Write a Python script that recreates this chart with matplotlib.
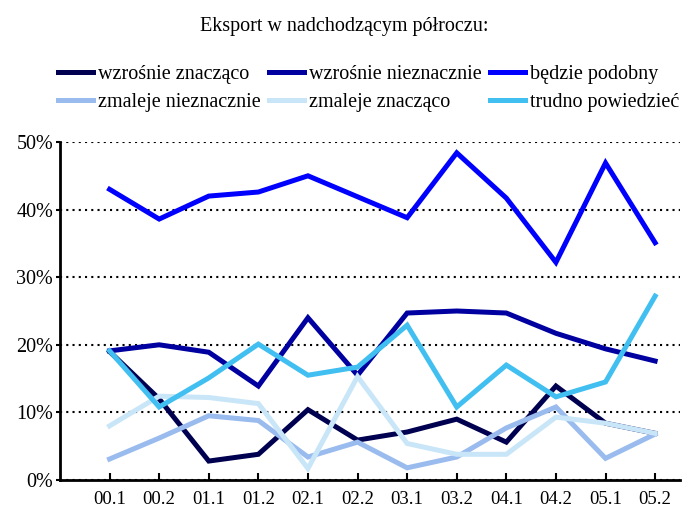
import matplotlib.pyplot as plt
from matplotlib.ticker import PercentFormatter

periods = ['00.1', '00.2', '01.1', '01.2', '02.1', '02.2',
           '03.1', '03.2', '04.1', '04.2', '05.1', '05.2']

wzrosnie_znaczaco = [19.0, 12.0, 2.8, 3.8, 10.4, 5.9, 7.1, 9.0, 5.6, 13.9, 8.4, 6.9]
wzrosnie_nieznacznie = [19.1, 20.0, 18.9, 13.9, 24.0, 15.5, 24.7, 25.0, 24.7, 21.7, 19.4, 17.6]
bedzie_podobny = [43.0, 38.6, 42.0, 42.6, 45.0, 41.9, 38.8, 48.4, 41.7, 32.2, 46.9, 35.1]
zmaleje_nieznacznie = [3.1, 6.2, 9.5, 8.8, 3.4, 5.6, 1.8, 3.4, 7.7, 10.8, 3.2, 6.8]
zmaleje_znaczaco = [8.0, 12.4, 12.2, 11.3, 1.7, 15.3, 5.4, 3.8, 3.8, 9.3, 8.4, 6.9]
trudno_powiedziec = [19.1, 10.8, 15.1, 20.1, 15.5, 16.7, 22.9, 10.8, 17.0, 12.3, 14.5, 27.2]

series = [
    ('wzrośnie znacząco', wzrosnie_znaczaco, '#000050'),
    ('wzrośnie nieznacznie', wzrosnie_nieznacznie, '#0000A0'),
    ('będzie podobny', bedzie_podobny, '#0000FF'),
    ('zmaleje nieznacznie', zmaleje_nieznacznie, '#99BBEE'),
    ('zmaleje znacząco', zmaleje_znaczaco, '#C8E6F8'),
    ('trudno powiedzieć', trudno_powiedziec, '#40BFF0'),
]

plt.rcParams['font.family'] = ['Liberation Serif', 'DejaVu Serif']

fig = plt.figure(figsize=(6.95, 5.09), dpi=100)
ax = fig.add_axes([0.0863, 0.057, 0.892, 0.664])

x = list(range(len(periods)))
handles = []
for name, vals, color in series:
    h, = ax.plot(x, vals, color=color, lw=3.6, label=name, solid_joinstyle='miter')
    handles.append(h)

ax.set_ylim(0, 50)
ax.set_xlim(-1, 11.5)
ax.set_yticks([0, 10, 20, 30, 40, 50])
ax.yaxis.set_major_formatter(PercentFormatter(decimals=0))
ax.set_xticks(x)
ax.set_xticklabels(periods)
ax.tick_params(axis='x', direction='in', length=5, width=1.5, labelsize=13.5, pad=8)
ax.tick_params(axis='y', direction='out', length=3, width=1.5, labelsize=14.5, pad=2)
ax.grid(axis='y', color='black', linestyle=(0, (1, 2)), lw=1.5)
ax.set_axisbelow(True)
for s in ['top', 'right']:
    ax.spines[s].set_visible(False)
for s in ['left', 'bottom']:
    ax.spines[s].set_linewidth(2)

fig.text(0.495, 0.947, 'Eksport w nadchodzącym półroczu:', ha='center', va='center', fontsize=14.5)

# legend fills column-first, reorder so rows read like the original
order = [0, 3, 1, 4, 2, 5]
fig.legend([handles[i] for i in order], [series[i][0] for i in order],
           ncol=3, loc='center', bbox_to_anchor=(0.53, 0.826), frameon=False,
           fontsize=14.5, handlelength=1.75, handletextpad=0.25, columnspacing=0.4,
           labelspacing=0.42, borderaxespad=0, borderpad=0)

plt.savefig('out.png', dpi=100)
